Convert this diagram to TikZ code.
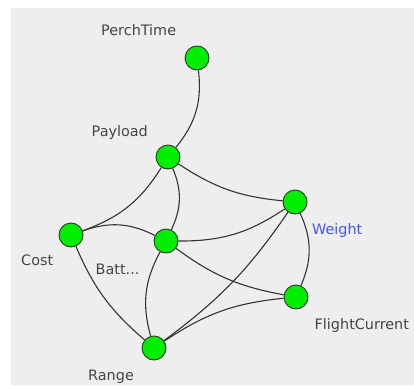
\documentclass[tikz,border=0pt]{standalone}
\usepackage{fontspec}
\setmainfont{DejaVu Sans}
\definecolor{panel}{HTML}{EEEEEE}
\definecolor{nodegreen}{HTML}{00EE00}
\definecolor{edgegray}{HTML}{333333}
\definecolor{labelgray}{HTML}{444444}
\definecolor{labelblue}{HTML}{4455FF}
\begin{document}
\begin{tikzpicture}[x=1pt,y=-1pt,
  vertex/.style={circle, draw=edgegray, fill=nodegreen, minimum size=24pt,
    inner sep=0pt, line width=0.9pt},
  lbl/.style={anchor=base west, inner sep=0pt, text=labelgray,
    font=\fontsize{14.4}{16}\selectfont},
  link/.style={draw=edgegray, line width=1.1pt}]
% canvas and panel
\fill[white] (0,0) rectangle (414,385);
\fill[panel] (11,8) rectangle (414,385);
\useasboundingbox (0,0) rectangle (414,385);

% vertices
\node[vertex] (pt) at (197,58) {};
\node[vertex] (pl) at (168,157) {};
\node[vertex] (wt) at (295,202) {};
\node[vertex] (co) at (71,235) {};
\node[vertex] (ba) at (166,241) {};
\node[vertex] (fc) at (296,297) {};
\node[vertex] (ra) at (154,348) {};

% labels
\node[lbl] (ptl) at (101,35.7) {PerchTime};
\node[lbl] (pll) at (91.5,136) {Payload};
\node[lbl, text=labelblue] (wtl) at (312,234) {Weight};
\node[lbl] (col) at (21,265.7) {Cost};
\node[lbl] (bal) at (95.5,274.3) {Batt...};
\node[lbl] (fcl) at (314.5,329.3) {FlightCurrent};
\node[lbl] (ral) at (88,380) {Range};

% edges
\draw[link] (pt) to[bend left=23] (pl);
\draw[link] (pl) to[bend left=19] (co);
\draw[link] (pl) to[bend left=24] (ba);
\draw[link] (pl) to[bend right=14] (wt);
\draw[link] (co) to[bend left=23] (ba);
\draw[link] (co) to[bend right=13] (ra);
\draw[link] (ba) to[bend right=17] (wt);
\draw[link] (ba) to[bend right=13] (fc);
\draw[link] (ba) to[bend right=22] (ra);
\draw[link] (wt) to[bend left=9.5] (ra);
\draw[link] (wt) to[bend left=24] (fc);
\draw[link] (fc) to[bend right=14] (ra);
\end{tikzpicture}
\end{document}
